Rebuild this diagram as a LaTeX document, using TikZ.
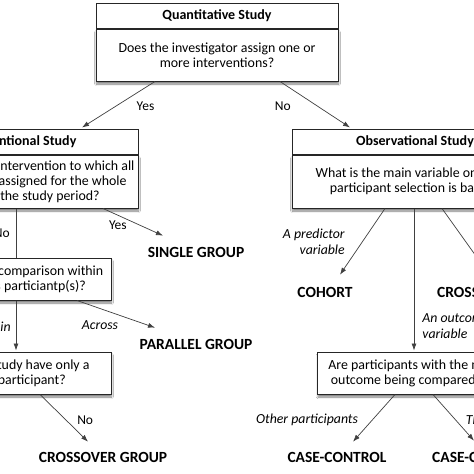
\documentclass[tikz,border=0pt]{standalone}
\usepackage{fontspec}
\setmainfont{Carlito}
\usetikzlibrary{positioning,arrows.meta,shadows.blur}

\begin{document}
\begin{tikzpicture}[x=1pt,y=-1pt,>={Latex[length=7pt,width=5pt]},
  boxtitle/.style={draw=black!85,line width=1pt,fill=white,inner sep=0pt,minimum height=25pt,
    font=\fontsize{14}{15}\selectfont\bfseries},
  boxbody/.style={draw=black!85,line width=1pt,fill=white,inner sep=0pt,align=center,
    font=\fontsize{13.9}{14.8}\selectfont,
    blur shadow={shadow xshift=0.5pt,shadow yshift=-3pt,shadow blur steps=6,shadow opacity=50}},
  outcome/.style={inner sep=0pt,font=\fontsize{15.5}{17}\selectfont\bfseries},
  answer/.style={inner sep=0pt,font=\fontsize{13.5}{16}\selectfont},
  choice/.style={inner sep=0pt,font=\fontsize{13.8}{16}\selectfont\itshape},
  link/.style={draw=black!75,line width=0.7pt}]

\fill[white] (0,0) rectangle (474,474);
\useasboundingbox (0,0) rectangle (474,474);
\clip (0,0) rectangle (474,474);

% question boxes
\node[boxtitle,minimum width=242pt] (qtitle) at (217,15.5) {Quantitative Study};
\node[boxbody,minimum width=242pt,minimum height=52pt,below=0pt of qtitle] (qbody) {Does the investigator assign one or\\more interventions?};

\node[boxtitle,minimum width=242pt] (ititle) at (17,141.5) {Interventional Study};
\node[boxbody,minimum width=242pt,minimum height=53pt,below=0pt of ititle] (ibody) {Is there only one intervention to which all\\participants are assigned for the whole\\duration of the study period?};

\node[boxtitle,minimum width=246pt] (otitle) at (415,141.5) {Observational Study};
\node[boxbody,minimum width=246pt,minimum height=53pt,below=0pt of otitle] (obody) {What is the main variable on which\\participant selection is based?};

\node[boxbody,minimum width=186pt,minimum height=42pt] (cbox) at (18,279) {Is the main comparison within\\or across particiantp(s)?};
\node[boxbody,minimum width=194pt,minimum height=42pt] (pbox) at (14,373) {Does the study have only a\\single participant?};
\node[boxbody,minimum width=193pt,minimum height=42pt] (ubox) at (414,373) {Are participants with the main\\outcome being compared to?};

% designs
\node[outcome] (single) at (196,252) {SINGLE GROUP};
\node[outcome] (parallel) at (196,344) {PARALLEL GROUP};
\node[outcome] (crossover) at (103,457) {CROSSOVER GROUP};
\node[outcome] (cohort) at (325,292) {COHORT};
\node[outcome,anchor=west] (crosssec) at (437,292) {CROSS-SECTIONAL};
\node[outcome] (casecontrol) at (337,457) {CASE-CONTROL};
\node[outcome,anchor=west] (casecross) at (432,457) {CASE-CROSSOVER};

% connectors
\draw[link,->] ([xshift=-62pt]qbody.south) -- node[answer,pos=0.53,anchor=west,xshift=20pt] (yesq) {Yes} ([xshift=65pt,yshift=1pt]ititle.north);
\draw[link,->] ([xshift=63pt]qbody.south) -- node[answer,pos=0.53,anchor=east,xshift=-26pt] (noq) {No} ([xshift=-65pt,yshift=1pt]otitle.north);

\draw[link,->] ([xshift=86pt]ibody.south) -- node[answer,pos=0.6,anchor=east,xshift=-12pt] (yesi) {Yes} ([xshift=-33pt,yshift=11pt]single.north);
\draw[link] ([xshift=-1pt]ibody.south) -- node[answer,pos=0.51,anchor=east,xshift=-6pt] (noi) {No} ([xshift=-2pt]cbox.north);

\draw[link,->] ([xshift=-2pt]cbox.south) -- node[choice,pos=0.52,anchor=east,xshift=-5pt] (within) {Within} ([xshift=2pt,yshift=1pt]pbox.north);
\draw[link,->] ([xshift=59pt]cbox.south) -- node[choice,pos=0.89,anchor=east,xshift=-28pt] (across) {Across} ([xshift=-41pt,yshift=11pt]parallel.north);

\draw[link,->] ([xshift=26pt]pbox.south) -- node[answer,pos=0.54,anchor=west,xshift=11pt] (nop) {No} ([xshift=-15pt,yshift=10pt]crossover.north);

\draw[link,->] ([xshift=-30pt]obody.south) -- node[choice,pos=0.51,anchor=east,xshift=-17pt,align=right] (predictor) {A predictor\\variable} ([xshift=15pt,yshift=12pt]cohort.north);
\draw[link,->] ([xshift=-1pt]obody.south) -- node[choice,pos=0.83,anchor=west,xshift=8pt,align=left] (outvar) {An outcome\\variable} ([yshift=1pt]ubox.north);
\draw[link,->] ([xshift=27pt]obody.south) -- ([xshift=53pt,yshift=11pt]crosssec.north west);

\draw[link,->] ([xshift=-19pt]ubox.south) -- node[choice,pos=0.54,anchor=east,xshift=-14pt] (others) {Other participants} ([xshift=16pt,yshift=10pt]casecontrol.north);
\draw[link,->] ([xshift=19pt]ubox.south) -- node[choice,pos=0.55,anchor=west,xshift=10pt] (selves) {Themselves} ([xshift=42pt,yshift=11pt]casecross.north west);

\end{tikzpicture}
\end{document}
